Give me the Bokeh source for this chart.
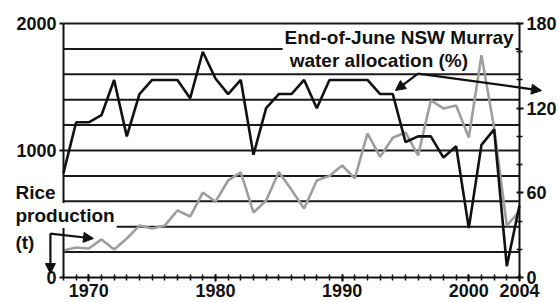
from bokeh.plotting import figure
from bokeh.models import Range1d, LinearAxis, FixedTicker, Label, Arrow, NormalHead
from bokeh.embed import file_html
from bokeh.resources import INLINE

years = [1968, 1969, 1970, 1971, 1972, 1973, 1974, 1975, 1976, 1977,
         1978, 1979, 1980, 1981, 1982, 1983, 1984, 1985, 1986, 1987,
         1988, 1989, 1990, 1991, 1992, 1993, 1994, 1995, 1996, 1997,
         1998, 1999, 2000, 2001, 2002, 2003, 2004]
rice_production = [213, 236, 228, 300, 220, 307, 409, 386, 409, 528,
                   480, 669, 598, 764, 827, 512, 606, 830, 690, 543,
                   764, 800, 882, 780, 1134, 950, 1100, 1142, 961, 1394,
                   1331, 1354, 1102, 1750, 1180, 409, 520]
water_allocation = [74, 110, 110, 115, 140, 100, 130, 140, 140, 140,
                    127, 160, 141, 130, 140, 87, 120, 130, 130, 140,
                    120, 140, 140, 140, 140, 130, 130, 96, 100, 100,
                    85, 93, 35, 94, 105, 8, 51]
left_ticks = [0, 1000, 2000]
right_ticks = [0, 60, 120, 180]
right_minor = [20, 40, 80, 100, 140, 160]
x_ticks = [1970, 1980, 1990, 2000, 2004]
grid_levels = [200, 400, 600, 800, 1000, 1200, 1400, 1600, 1800, 2000]

X0, X1 = years[0], years[-1]
Y0, Y1 = 0, 2000
P0, P1 = 0, 180

FONT = "Liberation Sans"
INK = "#111111"

# the frame fills the whole canvas; axes are pinned at fixed data locations
p = figure(width=559, height=302,
           x_range=Range1d(1963.03, 2007.16), y_range=Range1d(-196.9, 2181.1),
           output_backend="svg", toolbar_location=None,
           min_border=0, min_border_left=0, min_border_right=0,
           min_border_top=0, min_border_bottom=0,
           outline_line_color=None, background_fill_color="white",
           border_fill_color="white")
p.extra_y_ranges = {"pct": Range1d(-17.72, 196.3)}
p.xgrid.visible = False
p.ygrid.visible = False

ya = p.yaxis[0]
ya.ticker = FixedTicker(ticks=left_ticks, minor_ticks=[])
ya.fixed_location = X0
ya.bounds = (Y0, Y1)

xa = p.xaxis[0]
xa.ticker = FixedTicker(ticks=x_ticks, minor_ticks=years)
xa.fixed_location = Y0
xa.bounds = (X0, X1)

ra = LinearAxis(y_range_name="pct", ticker=FixedTicker(ticks=right_ticks, minor_ticks=right_minor))
ra.fixed_location = X1
ra.bounds = (P0, P1)
p.add_layout(ra, "right")

for ax in (ya, xa, ra):
    ax.axis_line_color = INK
    ax.axis_line_width = 2
    ax.major_tick_line_color = INK
    ax.major_tick_line_width = 2
    ax.minor_tick_line_color = INK
    ax.minor_tick_line_width = 1.5
    ax.major_label_text_font = FONT
    ax.major_label_text_font_style = "bold"
    ax.major_label_text_font_size = "18px"
    ax.major_label_text_color = INK
    ax.major_label_standoff = 3
    ax.major_tick_out = 4
    ax.major_tick_in = 0
    ax.minor_tick_out = 3
    ax.minor_tick_in = 3
xa.major_tick_in = 3
ra.major_tick_in = 3

# horizontal grid lines between the two vertical axes
p.segment(x0=X0, y0=grid_levels, x1=X1, y1=grid_levels, line_color="#1a1a1a", line_width=2)

p.line(years, rice_production, line_color="#9e9e9e", line_width=2.6)
p.line(years, water_allocation, y_range_name="pct", line_color=INK, line_width=2.6)

lab = dict(text_font=FONT, text_font_style="bold", text_font_size="19px", text_color=INK,
           background_fill_color="white", text_baseline="middle", padding=2)
p.add_layout(Label(x=1985.3, y=1890, text="End-of-June NSW Murray", **lab))
p.add_layout(Label(x=1985.7, y=1709, text="water allocation (%)", **lab))
p.add_layout(Label(x=1964.05, y=669, text="Rice", **lab))
p.add_layout(Label(x=1964.05, y=488, text="production", **lab))
p.add_layout(Label(x=1964.05, y=276, text="(t)", **lab))

def head():
    return NormalHead(size=10, fill_color=INK, line_color=INK)

for (x0, y0, x1, y1) in [(1995.99, 1606, 1994.21, 1472), (1995.99, 1606, 2005.74, 1472),
                         (1966.97, 346, 1970.37, 307), (1966.97, 346, 1966.97, 31)]:
    p.add_layout(Arrow(x_start=x0, y_start=y0, x_end=x1, y_end=y1, end=head(),
                       line_color=INK, line_width=2.2))

open("out.html", "w").write(file_html(p, INLINE))
